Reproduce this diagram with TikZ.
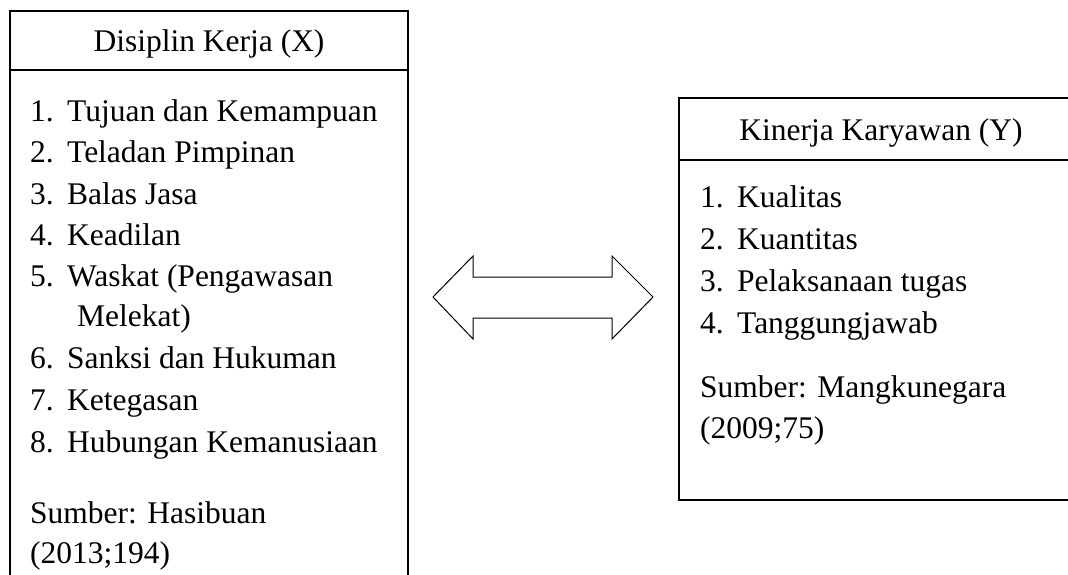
\documentclass[tikz,border=0pt]{standalone}
\usepackage{fontspec}
\setmainfont{Liberation Serif}
\begin{document}
\begin{tikzpicture}[x=1pt,y=-1pt,
  boxline/.style={line width=1.3pt},
  arrowline/.style={line width=1pt, line join=miter},
  txt/.style={anchor=base west, inner sep=0pt, font=\fontsize{31.5}{40}\selectfont},
  head/.style={anchor=base, inner sep=0pt, font=\fontsize{31.5}{40}\selectfont}]
\useasboundingbox (0,0) rectangle (1068,575);
\clip (0,0) rectangle (1068,575);
\newcommand{\itm}[2]{\makebox[37pt][l]{#1}#2}
% left box
\draw[boxline] (10,600) -- (10,11) -- (408,11) -- (408,600);
\draw[boxline] (10,70) -- (408,70);
\node[head] (hx) at (209,52) {Disiplin Kerja (X)};
\node[txt] (x1) at (30,122) {\itm{1.}{Tujuan dan Kemampuan}};
\node[txt] (x2) at (30,163) {\itm{2.}{Teladan Pimpinan}};
\node[txt] (x3) at (30,204) {\itm{3.}{Balas Jasa}};
\node[txt] (x4) at (30,245) {\itm{4.}{Keadilan}};
\node[txt] (x5) at (30,286) {\itm{5.}{Waskat (Pengawasan}};
\node[txt] (x5b) at (77,326) {Melekat)};
\node[txt] (x6) at (30,368) {\itm{6.}{Sanksi dan Hukuman}};
\node[txt] (x7) at (30,410) {\itm{7.}{Ketegasan}};
\node[txt] (x8) at (30,452) {\itm{8.}{Hubungan Kemanusiaan}};
\node[txt] (xs) at (30,523) {Sumber: Hasibuan};
\node[txt] (xs2) at (30,563) {(2013;194)};
% arrow
\draw[arrowline] (433,297) -- (473,256) -- (473,277) -- (612,277) -- (612,256)
  -- (653,297) -- (612,339) -- (612,318) -- (473,318) -- (473,339) -- cycle;
% right box
\draw[boxline] (1100,98) -- (679,98) -- (679,500) -- (1100,500);
\draw[boxline] (679,160) -- (1100,160);
\node[head] (hy) at (881,140) {Kinerja Karyawan (Y)};
\node[txt] (y1) at (700,207) {\itm{1.}{Kualitas}};
\node[txt] (y2) at (700,249) {\itm{2.}{Kuantitas}};
\node[txt] (y3) at (700,291) {\itm{3.}{Pelaksanaan tugas}};
\node[txt] (y4) at (700,333) {\itm{4.}{Tanggungjawab}};
\node[txt] (ys) at (700,397) {Sumber: Mangkunegara};
\node[txt] (ys2) at (700,438) {(2009;75)};
\end{tikzpicture}
\end{document}
